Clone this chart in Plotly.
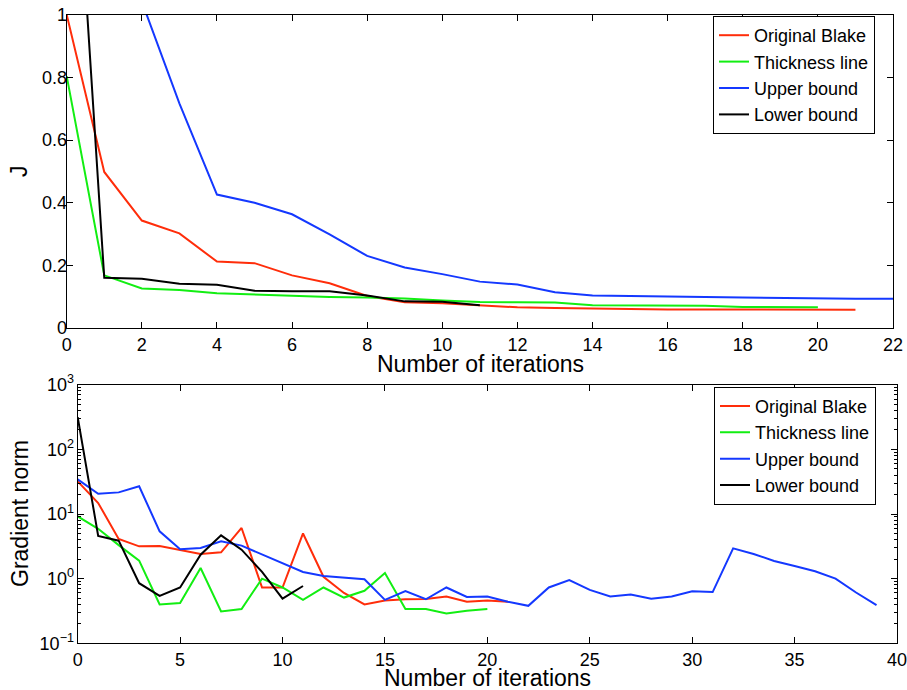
import plotly.graph_objects as go

# ---- data: top panel (J vs iterations) ----
j_x_red = list(range(0, 22))
j_red = [1.0, 0.498, 0.343, 0.302, 0.212, 0.207, 0.168, 0.143, 0.102, 0.082, 0.079,
         0.072, 0.066, 0.064, 0.062, 0.061, 0.059, 0.059, 0.059, 0.059, 0.059, 0.0585]
j_x_green = list(range(0, 21))
j_green = [0.804, 0.168, 0.126, 0.121, 0.111, 0.107, 0.102, 0.099, 0.097, 0.094, 0.088,
           0.083, 0.082, 0.081, 0.073, 0.072, 0.072, 0.071, 0.067, 0.066, 0.066]
j_x_blue = list(range(0, 23))
j_blue = [1.9, 1.45, 1.042, 0.717, 0.426, 0.400, 0.363, 0.299, 0.230, 0.193, 0.172,
          0.148, 0.139, 0.114, 0.104, 0.103, 0.100, 0.099, 0.097, 0.095, 0.093, 0.093, 0.093]
j_x_black = list(range(0, 12))
j_black = [2.02, 0.160, 0.157, 0.141, 0.138, 0.119, 0.117, 0.117, 0.104, 0.085, 0.084, 0.073]

# ---- data: bottom panel (gradient norm vs iterations) ----
g_x_red = list(range(0, 22))
g_red = [32, 14.8, 4.1, 3.16, 3.2, 2.74, 2.41, 2.55, 6.08, 0.73, 0.73,
         5.0, 1.07, 0.60, 0.40, 0.46, 0.48, 0.485, 0.53, 0.44, 0.46, 0.44]
g_x_green = list(range(0, 21))
g_green = [9.2, 5.9, 3.3, 1.9, 0.40, 0.42, 1.46, 0.31, 0.34, 1.0, 0.73,
           0.47, 0.73, 0.51, 0.65, 1.22, 0.34, 0.34, 0.29, 0.32, 0.34]
g_x_blue = list(range(0, 40))
g_blue = [34.4, 20.6, 21.6, 26.8, 5.4, 2.84, 2.98, 3.78, 3.24, 2.35, 1.73,
          1.27, 1.10, 1.04, 0.98, 0.47, 0.64, 0.48, 0.73, 0.52, 0.53,
          0.44, 0.38, 0.73, 0.95, 0.67, 0.53, 0.57, 0.49, 0.53, 0.64,
          0.62, 2.94, 2.41, 1.88, 1.57, 1.30, 1.0, 0.61, 0.39]
g_x_black = list(range(0, 12))
g_black = [316, 4.57, 3.87, 0.85, 0.54, 0.73, 2.35, 4.68, 2.81, 1.27, 0.49, 0.77]

names = ["Original Blake", "Thickness line", "Upper bound", "Lower bound"]
colors = ["#ff2d0a", "#12ee12", "#1438ff", "#000000"]

top_x_ticks = list(range(0, 23, 2))
top_y_ticks = [0, 0.2, 0.4, 0.6, 0.8, 1]
top_y_text = ["0", "0.2", "0.4", "0.6", "0.8", "1"]
bot_x_ticks = list(range(0, 41, 5))
bot_y_ticks = [0.1, 1, 10, 100, 1000]
bot_y_text = ["10<sup>\u22121</sup>", "10<sup>0</sup>", "10<sup>1</sup>", "10<sup>2</sup>", "10<sup>3</sup>"]
bot_y_minor = [m * d for d in (0.1, 1, 10, 100) for m in range(2, 10)]

x_title = "Number of iterations"
top_y_title = "J"
bot_y_title = "Gradient norm"

FONT = "Liberation Sans, Arial, Helvetica, sans-serif"

fig = go.Figure()
top_sets = [(j_x_red, j_red), (j_x_green, j_green), (j_x_blue, j_blue), (j_x_black, j_black)]
bot_sets = [(g_x_red, g_red), (g_x_green, g_green), (g_x_blue, g_blue), (g_x_black, g_black)]
for (xs, ys), n, c in zip(top_sets, names, colors):
    fig.add_trace(go.Scatter(x=xs, y=ys, mode="lines", name=n, line=dict(color=c, width=2),
                             xaxis="x", yaxis="y", legend="legend"))
for (xs, ys), n, c in zip(bot_sets, names, colors):
    fig.add_trace(go.Scatter(x=xs, y=ys, mode="lines", name=n, line=dict(color=c, width=2),
                             xaxis="x2", yaxis="y2", legend="legend2"))

W, H = 907, 690
def px(x):
    return x / W
def py(y):
    return 1 - y / H

axis_common = dict(showline=True, linecolor="black", linewidth=1.2, mirror="ticks",
                   ticks="inside", ticklen=6, tickcolor="black", showgrid=False,
                   zeroline=False, automargin=False, ticklabeloverflow="allow",
                   tickfont=dict(size=18, color="black", family=FONT))

fig.update_layout(
    width=W, height=H, margin=dict(l=0, r=0, t=0, b=0, autoexpand=False),
    paper_bgcolor="white", plot_bgcolor="white",
    font=dict(family=FONT, color="black"),
    xaxis=dict(domain=[px(66.7), px(893)], anchor="y", range=[0, 22], tickvals=top_x_ticks,
               **axis_common),
    yaxis=dict(domain=[py(328), py(14.7)], anchor="x", range=[0, 1], tickvals=top_y_ticks,
               ticktext=top_y_text, ticklabelstandoff=-5, **axis_common),
    xaxis2=dict(domain=[px(77.7), px(897)], anchor="y2", range=[0, 40], tickvals=bot_x_ticks,
                **axis_common),
    yaxis2=dict(domain=[py(643.3), py(384.7)], anchor="x2", type="log", range=[-1, 3],
                tickvals=bot_y_ticks, ticktext=bot_y_text, ticklabelstandoff=-1,
                minor=dict(tickvals=bot_y_minor, ticks="inside", ticklen=3, tickcolor="black",
                           showgrid=False),
                **axis_common),
    legend=dict(x=px(713), y=py(16), xanchor="left", yanchor="top", bgcolor="white",
                bordercolor="black", borderwidth=1, font=dict(size=18, family=FONT)),
    legend2=dict(x=px(714), y=py(386.7), xanchor="left", yanchor="top", bgcolor="white",
                 bordercolor="black", borderwidth=1, font=dict(size=18, family=FONT)),
    showlegend=True,
)

title_font = dict(size=23, family=FONT, color="black")
fig.add_annotation(text=x_title, xref="paper", yref="paper", x=px(480), y=py(364),
                   xanchor="center", yanchor="middle", showarrow=False, font=title_font,
                   borderpad=0)
fig.add_annotation(text=x_title, xref="paper", yref="paper", x=px(487), y=py(677.5),
                   xanchor="center", yanchor="middle", showarrow=False, font=title_font,
                   borderpad=0)
fig.add_annotation(text=top_y_title, xref="paper", yref="paper", x=px(19), y=py(171),
                   xanchor="center", yanchor="middle", showarrow=False, textangle=-90,
                   font=title_font, borderpad=0)
fig.add_annotation(text=bot_y_title, xref="paper", yref="paper", x=px(20), y=py(514),
                   xanchor="center", yanchor="middle", showarrow=False, textangle=-90,
                   font=title_font, borderpad=0)

fig.write_html("out.html", config={"displayModeBar": False},
               post_script="document.body.style.margin='0';")
